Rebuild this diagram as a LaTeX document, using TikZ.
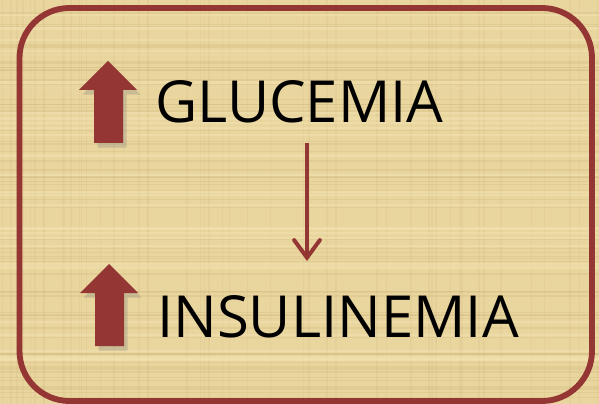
\documentclass[tikz,border=0pt]{standalone}
\usepackage{fontspec}
\setmainfont{Open Sans}
\usepackage{xcolor}
\usetikzlibrary{arrows.meta,calc,shadows,positioning}
\definecolor{papyrus}{HTML}{E9D59E}
\definecolor{papyrusdark}{HTML}{CDB478}
\definecolor{papyruslight}{HTML}{F6E8B8}
\definecolor{framered}{HTML}{943634}

\begin{document}
\begin{tikzpicture}[x=0.03cm,y=-0.03cm,
    label text/.style={anchor=base west,inner sep=0pt,font=\fontsize{49.5}{60}\selectfont},
    up block/.style={fill=framered,drop shadow={shadow xshift=3pt,shadow yshift=-4pt,opacity=0.3}}]
    \useasboundingbox (0,0) rectangle (599,404);
    \fill[papyrus] (0,0) rectangle (599,404);
    % papyrus fibres
    \pgfmathsetseed{7}
    \foreach \i in {1,...,70} {
      \pgfmathsetmacro{\yy}{404*rnd}
      \draw[papyrusdark,opacity=0.25,line width=1.2pt] (0,\yy) -- (599,\yy);
    }
    \foreach \i in {1,...,50} {
      \pgfmathsetmacro{\xx}{599*rnd}
      \draw[papyrusdark,opacity=0.18,line width=1.2pt] (\xx,0) -- (\xx,404);
    }
    \foreach \i in {1,...,30} {
      \pgfmathsetmacro{\yy}{404*rnd}
      \draw[papyruslight,opacity=0.4,line width=2pt] (0,\yy) -- (599,\yy);
    }
    % frame
    \draw[framered,line width=5pt,rounded corners=1.5cm] (19.5,8) rectangle (592,401);
    % up arrows
    \foreach \dx/\dy in {0/0,1/203} {
      \fill[up block,shift={(\dx,\dy)}]
        (108,61) -- (137,90) -- (123,90) -- (123,143) -- (94,143) -- (94,90) -- (79,90) -- cycle;
    }
    \node[label text] (glucemia) at (155,123) {GLUCEMIA};
    \node[label text] (insulinemia) at (157,337) {INSULINEMIA};
    \coordinate (arrtop) at (307,143);
    \coordinate (arrbot) at (307,261);
    \draw[framered,line width=3.4pt,-{Straight Barb[length=15pt,width=22pt,line cap=round]}] (arrtop) -- (arrbot);
\end{tikzpicture}
\end{document}
